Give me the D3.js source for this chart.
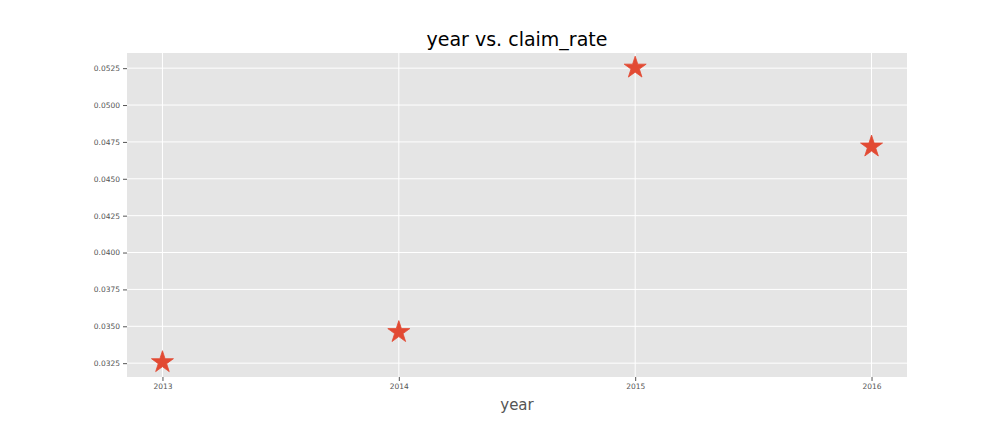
<!DOCTYPE html>
<html>
<head>
<meta charset="utf-8">
<script src="https://cdn.jsdelivr.net/npm/d3@7"></script>
<style>
body { margin: 0; background: #fff; }
text { font-family: "DejaVu Sans", sans-serif; }
</style>
</head>
<body>
<script>
const years = [2013, 2014, 2015, 2016];
const claimRate = [0.03256, 0.03460, 0.05253, 0.04718];
const yTicks = [0.0325, 0.035, 0.0375, 0.04, 0.0425, 0.045, 0.0475, 0.05, 0.0525];

const W = 1008, H = 432;
const m = { left: 127, right: W - 907, top: 53, bottom: H - 377 };

const svg = d3.select("body").append("svg").attr("width", W).attr("height", H);

const lo = d3.min(claimRate), hi = d3.max(claimRate), pad = (hi - lo) * 0.05;
const x = d3.scaleLinear().domain([2013 - 0.15, 2016 + 0.15]).range([m.left, W - m.right]);
const y = d3.scaleLinear().domain([lo - pad, hi + pad]).range([H - m.bottom, m.top]);

svg.append("rect").attr("x", m.left).attr("y", m.top)
    .attr("width", W - m.left - m.right).attr("height", H - m.top - m.bottom)
    .attr("fill", "#E5E5E5");

// grid
svg.append("g").selectAll("line").data(years).enter().append("line")
    .attr("x1", d => x(d)).attr("x2", d => x(d))
    .attr("y1", m.top).attr("y2", H - m.bottom)
    .attr("stroke", "#fff").attr("stroke-width", 1);
svg.append("g").selectAll("line").data(yTicks).enter().append("line")
    .attr("x1", m.left).attr("x2", W - m.right)
    .attr("y1", d => y(d)).attr("y2", d => y(d))
    .attr("stroke", "#fff").attr("stroke-width", 1);

const xAxis = svg.append("g").attr("transform", `translate(0,${H - m.bottom})`)
    .call(d3.axisBottom(x).tickValues(years).tickFormat(d3.format("d")).tickSize(4).tickPadding(3));
const yAxis = svg.append("g").attr("transform", `translate(${m.left},0)`)
    .call(d3.axisLeft(y).tickValues(yTicks).tickFormat(d3.format(".4f")).tickSize(4).tickPadding(3));
[xAxis, yAxis].forEach(a => {
    a.select(".domain").remove();
    a.selectAll(".tick line").attr("stroke", "#555");
    a.selectAll("text").attr("fill", "#555").style("font-size", "7.5px");
});

const star = d3.symbol().type(d3.symbolStar).size(150);
svg.append("g").selectAll("path").data(years).enter().append("path")
    .attr("d", star)
    .attr("transform", (d, i) => `translate(${x(d)},${y(claimRate[i])})`)
    .attr("fill", "#E24A33").attr("stroke", "#E24A33").attr("stroke-width", 0.8);

svg.append("text").attr("x", (m.left + W - m.right) / 2).attr("y", 46)
    .attr("text-anchor", "middle").style("font-size", "19px").attr("fill", "#000")
    .text("year vs. claim_rate");
svg.append("text").attr("x", (m.left + W - m.right) / 2).attr("y", 410)
    .attr("text-anchor", "middle").style("font-size", "15px").attr("fill", "#555")
    .text("year");
</script>
</body>
</html>
